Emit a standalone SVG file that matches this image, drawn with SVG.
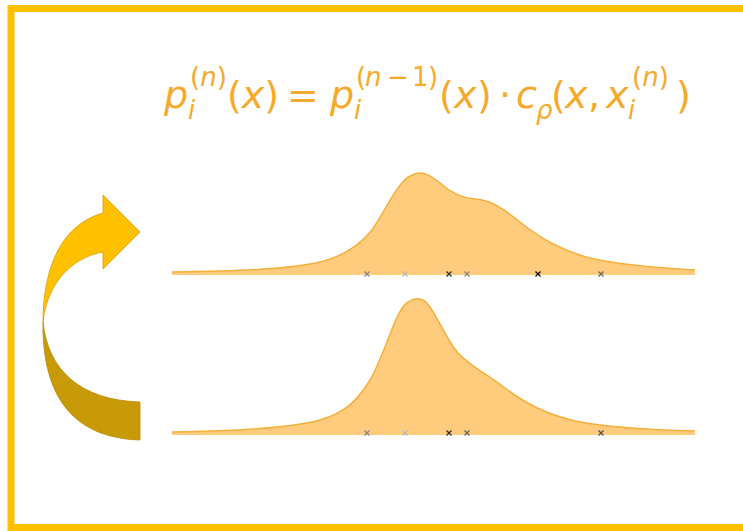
<svg xmlns="http://www.w3.org/2000/svg" width="743" height="531" viewBox="0 0 743 531">
<style>
.eq{font-family:"DejaVu Sans","Liberation Sans",sans-serif;fill:#F6AA2A;font-size:38px}
.sc{font-size:26px}
.it{font-style:oblique}
.dist{fill:#FECC7C;stroke:none}
.edge{fill:none;stroke:#F4B03A;stroke-width:1.5}
.mk{stroke-width:1.3;fill:none}
</style>
<defs>
<path id="x" d="M-2.5,-2.5 L2.5,2.5 M-2.5,2.5 L2.5,-2.5"/>
</defs>
<rect x="11" y="8.5" width="760" height="519" fill="#FFFFFF" stroke="#FFC000" stroke-width="7"/>

<g id="formula">
<text class="eq it" x="164" y="108">p</text>
<text class="eq sc" y="86"><tspan x="190">(</tspan><tspan class="it">n</tspan><tspan>)</tspan></text>
<text class="eq sc it" x="188" y="119">i</text>
<text class="eq" y="108"><tspan x="227">(</tspan><tspan class="it">x</tspan><tspan>)</tspan></text>
<text class="eq" x="287" y="108">=</text>
<text class="eq it" x="330" y="108">p</text>
<text class="eq sc" y="86"><tspan x="356">(</tspan><tspan class="it" x="365">n</tspan><tspan x="387">−</tspan><tspan x="412">1</tspan><tspan x="428">)</tspan></text>
<text class="eq sc it" x="354" y="119">i</text>
<text class="eq" y="108"><tspan x="439">(</tspan><tspan class="it" x="454">x</tspan><tspan x="477">)</tspan></text>
<text class="eq" x="499" y="108">·</text>
<text class="eq it" x="516" y="108">c</text>
<text class="eq sc it" x="536" y="119">ρ</text>
<text class="eq" y="108"><tspan x="551">(</tspan><tspan class="it" x="565">x</tspan><tspan x="588">,</tspan><tspan class="it" x="606">x</tspan></text>
<text class="eq sc" y="86"><tspan x="632">(</tspan><tspan class="it">n</tspan><tspan>)</tspan></text>
<text class="eq sc it" x="628" y="119">i</text>
<text class="eq" x="676" y="108">)</text>
</g>

<g id="arrow">
<path d="M43,322 C42,395 72,438 140,440 L140,402 C80,400 48,370 43,322 Z" fill="#C99A08" stroke="#B98C05" stroke-width="0.8"/>
<path d="M103,213 L103,195 L140,232 L103,269 L103,252 C70,258 47,285 43,322 C43,270 60,225 103,213 Z" fill="#FFC000" stroke="#D9A200" stroke-width="0.8"/>
</g>

<g id="dist-top">
<path class="dist" d="M172,272 C240,271 290,269 320,262 C345,256 360,245 372,230 C385,212 398,180 412,175 C422,170 430,175 440,183 C450,192 460,198 475,199 C492,200 505,210 520,222 C540,238 560,250 590,258 C620,265 660,268 695,270 L695,275 L172,275 Z"/>
<path class="edge" d="M172,272 C240,271 290,269 320,262 C345,256 360,245 372,230 C385,212 398,180 412,175 C422,170 430,175 440,183 C450,192 460,198 475,199 C492,200 505,210 520,222 C540,238 560,250 590,258 C620,265 660,268 695,270"/>
<use href="#x" x="367" y="274" class="mk" stroke="#888"/>
<use href="#x" x="405" y="274" class="mk" stroke="#bbb"/>
<use href="#x" x="449" y="274" class="mk" stroke="#333"/>
<use href="#x" x="467" y="274" class="mk" stroke="#888"/>
<use href="#x" x="538" y="274" class="mk" stroke="#111"/>
<use href="#x" x="601" y="274" class="mk" stroke="#666"/>
</g>

<g id="dist-bottom">
<path class="dist" d="M172,432 C240,431 290,428 320,420 C345,413 358,400 370,380 C385,355 395,310 408,302 C414,298 420,297 426,302 C436,312 445,338 458,353 C470,366 485,373 505,388 C525,403 545,414 575,421 C610,428 650,430 695,431 L695,435 L172,435 Z"/>
<path class="edge" d="M172,432 C240,431 290,428 320,420 C345,413 358,400 370,380 C385,355 395,310 408,302 C414,298 420,297 426,302 C436,312 445,338 458,353 C470,366 485,373 505,388 C525,403 545,414 575,421 C610,428 650,430 695,431"/>
<use href="#x" x="367" y="433" class="mk" stroke="#888"/>
<use href="#x" x="405" y="433" class="mk" stroke="#bbb"/>
<use href="#x" x="449" y="433" class="mk" stroke="#333"/>
<use href="#x" x="467" y="433" class="mk" stroke="#666"/>
<use href="#x" x="601" y="433" class="mk" stroke="#555"/>
</g>
</svg>
